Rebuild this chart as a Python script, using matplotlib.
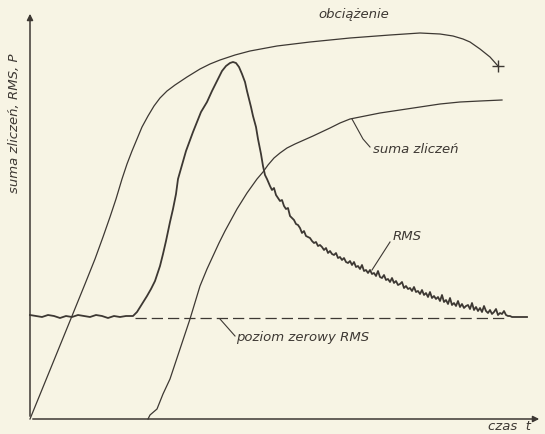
import numpy as np
import matplotlib
matplotlib.use("Agg")
import matplotlib.pyplot as plt

# load curve P(t)
load_t = [0, 20, 42, 55, 65, 73, 80, 86, 92, 97, 102, 107, 112, 118, 124, 130,
          137, 145, 157, 170, 180, 190, 205, 220, 247, 280, 320, 360, 390, 410,
          423, 433, 440, 450, 460, 468]
load_v = [0, 49, 103, 135, 160, 182, 202, 220, 240, 255, 268, 280, 292, 303, 313, 321,
          328, 334, 342, 350, 355, 359, 364, 368, 373, 377, 381, 384, 386, 385,
          383, 380, 377, 370, 362, 353]

# cumulative count
sum_t = [118, 120, 127, 133, 140, 150, 160, 170, 177, 183, 189, 195, 201, 207,
         212, 217, 222, 227, 233, 238, 244, 250, 257, 265, 274, 283, 300, 310,
         320, 335, 350, 370, 390, 410, 430, 450, 472]
sum_v = [0, 4, 10, 25, 40, 70, 100, 133, 150, 163, 176, 188, 199, 210,
         218, 226, 233, 240, 247, 254, 261, 266, 271, 275, 279, 283, 291, 296,
         300, 303, 306, 309, 312, 315, 317, 318, 319]

# RMS signal: noise floor before the burst
rms_floor_t = [0, 6, 12, 18, 24, 30, 36, 42, 48, 54, 60, 66, 72, 78, 84, 90, 96, 103]
rms_floor_v = [104, 103, 102, 104, 103, 101, 103, 102, 104, 103, 102, 104, 103, 101,
               103, 102, 103, 103]

# RMS signal: rise and peak
rms_peak_t = [107, 112, 117, 121, 125, 130, 133, 136, 140, 143, 146, 148, 152, 156,
              160, 163, 167, 171, 177, 182, 187, 192, 196, 200, 203, 206, 209, 212,
              215, 217, 219, 221, 223, 226, 228, 231, 233, 235, 237]
rms_peak_v = [107, 115, 123, 130, 138, 153, 165, 178, 197, 210, 225, 240, 254, 268,
              279, 287, 297, 307, 317, 328, 338, 348, 353, 356, 357, 356, 352, 345,
              337, 328, 320, 312, 303, 292, 280, 265, 253, 244, 240]

# RMS signal: slow noisy decay back to the zero level
rms_tail = [
    (240, 233), (242, 229), (244, 231), (246, 224), (248, 221), (250, 218),
    (252, 219), (254, 213), (256, 210), (258, 211), (260, 203), (262, 201),
    (264, 199), (266, 195), (268, 194), (270, 191), (272, 186), (274, 188),
    (276, 183), (278, 182), (280, 181), (282, 178), (284, 176), (286, 177),
    (288, 173), (290, 174), (292, 172), (294, 169), (296, 171), (298, 166),
    (300, 168), (302, 165), (304, 164), (306, 166), (308, 161), (310, 162),
    (312, 159), (314, 161), (316, 157), (318, 156), (320, 158), (322, 154),
    (324, 157), (326, 152), (328, 153), (330, 150), (332, 154), (334, 148),
    (336, 149), (338, 146), (340, 149), (342, 145), (344, 146), (346, 143),
    (348, 148), (350, 142), (352, 141), (354, 144), (356, 139), (358, 140),
    (360, 137), (362, 141), (364, 136), (366, 138), (368, 134), (370, 135),
    (372, 137), (374, 131), (376, 133), (378, 130), (380, 131), (382, 128),
    (384, 132), (386, 127), (388, 128), (390, 125), (392, 129), (394, 124),
    (396, 126), (398, 122), (400, 127), (402, 121), (404, 123), (406, 120),
    (408, 122), (410, 118), (412, 124), (414, 117), (416, 119), (418, 115),
    (420, 121), (422, 114), (424, 116), (426, 113), (428, 118), (430, 112),
    (432, 115), (434, 111), (436, 113), (438, 114), (440, 110), (442, 116),
    (444, 109), (446, 112), (448, 108), (450, 111), (452, 107), (454, 113),
    (456, 108), (458, 106), (460, 109), (462, 105), (464, 107), (466, 110),
    (468, 104), (470, 106), (472, 105), (474, 108), (476, 104), (478, 103),
    (480, 103), (482, 102), (490, 102), (497, 102),
]

# zero level of RMS
zero_level = 101
zero_t = [105, 478]

ink = "#3d3833"
paper = "#f7f4e4"
font = dict(family="DejaVu Sans", style="italic", size=9.5, color=ink)

rms_t = rms_floor_t + rms_peak_t + [p[0] for p in rms_tail]
rms_v = rms_floor_v + rms_peak_v + [p[1] for p in rms_tail]

fig = plt.figure(figsize=(5.45, 4.35), dpi=100, facecolor=paper)
ax = fig.add_axes([30 / 545, 15 / 435, 515 / 545, 420 / 435])
ax.set_facecolor(paper)
ax.set_xlim(0, 515)
ax.set_ylim(0, 420)
for s in ax.spines.values():
    s.set_visible(False)
ax.set_xticks([])
ax.set_yticks([])

# axes with arrow heads
ax.annotate("", xy=(512, 0), xytext=(0, 0),
            arrowprops=dict(arrowstyle="-|>", color=ink, lw=1.1, mutation_scale=9),
            annotation_clip=False)
ax.annotate("", xy=(0, 408), xytext=(0, 0),
            arrowprops=dict(arrowstyle="-|>", color=ink, lw=1.1, mutation_scale=9),
            annotation_clip=False)

ax.plot(load_t, load_v, color=ink, lw=0.9, clip_on=False)
ax.plot(load_t[-1], load_v[-1], marker="+", ms=9, mew=1.0, color=ink)
ax.plot(sum_t, sum_v, color=ink, lw=0.9, clip_on=False)
ax.plot(rms_t, rms_v, color=ink, lw=1.3, clip_on=False)
ax.plot(zero_t, [zero_level, zero_level], color=ink, lw=0.9, dashes=(9, 4))

# leader lines to labels
ax.plot([322, 333, 340], [300, 280, 272], color=ink, lw=0.8)
ax.plot([342, 360], [149, 177], color=ink, lw=0.8)
ax.plot([190, 205], [100, 83], color=ink, lw=0.8)

ax.text(288, 405, "obciążenie", ha="left", va="center", **font)
ax.text(343, 270, "suma zliczeń", ha="left", va="center", **font)
ax.text(363, 183, "RMS", ha="left", va="center", **font)
ax.text(206, 82, "poziom zerowy RMS", ha="left", va="center", **font)
ax.text(480, -7, "czas  t", ha="center", va="center", clip_on=False, **font)
ax.text(-15, 297, "suma zliczeń, RMS, P", ha="center", va="center",
        rotation=90, clip_on=False, **font)

fig.savefig("out.png", dpi=100, facecolor=paper)
